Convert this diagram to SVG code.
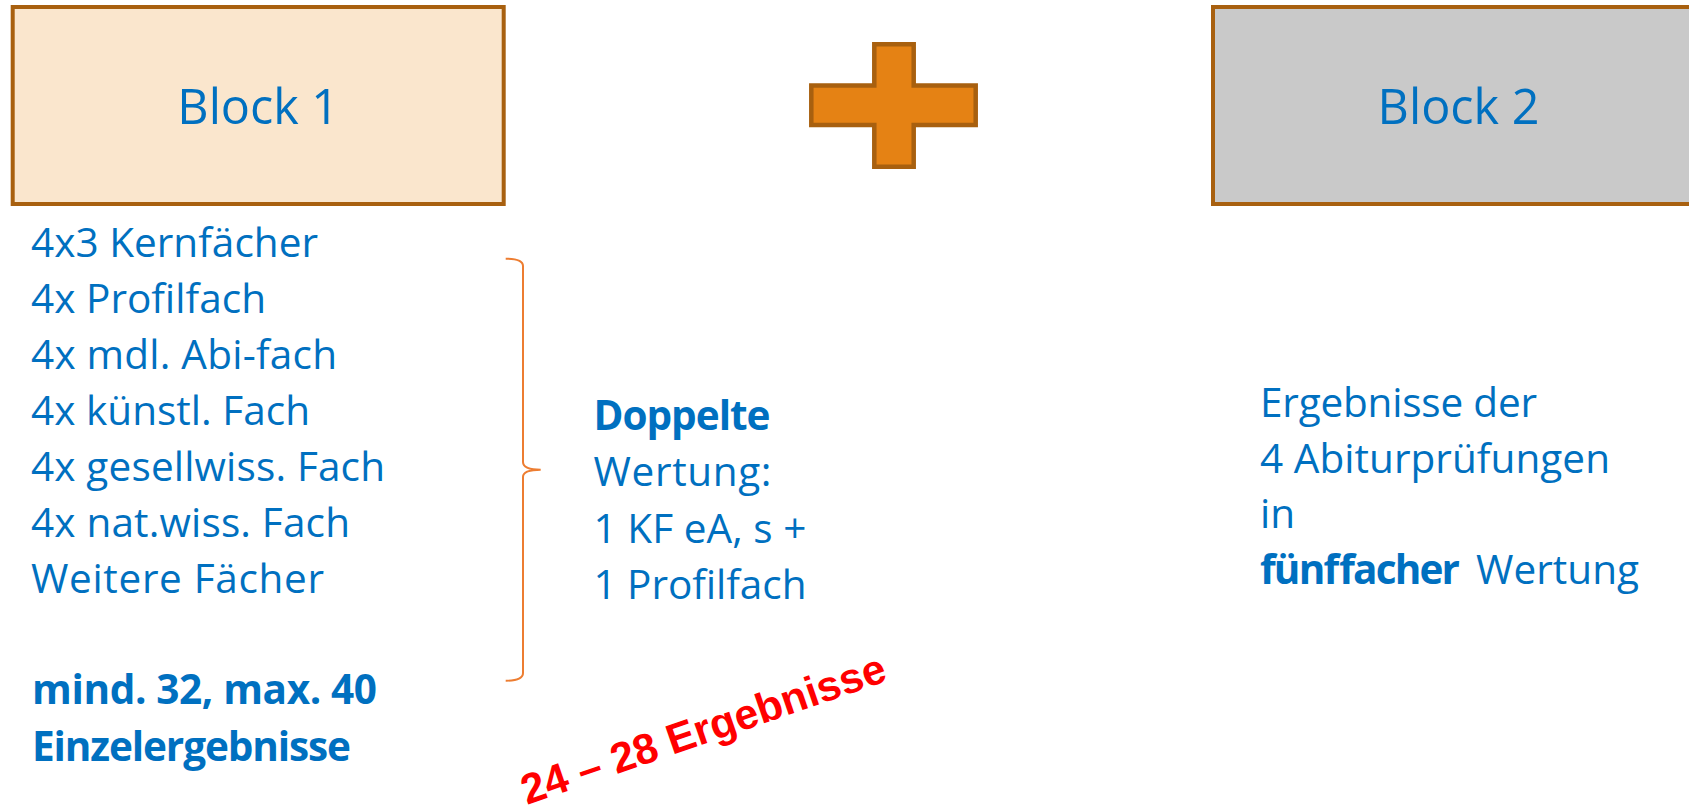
<svg xmlns="http://www.w3.org/2000/svg" width="1689" height="809" viewBox="0 0 1689 809">
<style>
.box{stroke:#A8600F;stroke-width:4}
.t{font-family:"Open Sans","Noto Sans",sans-serif;fill:#0070C0;font-size:40.5px}
.b{font-weight:bold}
.big{font-size:48.5px}
.red{font-family:"Liberation Sans",Arial,sans-serif;font-weight:bold;font-size:42.5px;fill:#FF0000}
</style>
<rect width="1689" height="809" fill="#FFFFFF"/>
<g id="block1">
<rect class="box" x="12.7" y="7" width="491" height="197" fill="#FAE6CD"/>
<text class="t big" x="258.2" y="124" text-anchor="middle">Block 1</text>
</g>
<g id="plus">
<path d="M874.3,44.3 H913.7 V85.5 H975.7 V125 H913.7 V166.7 H874.3 V125 H811.3 V85.5 H874.3 Z" fill="#E58214" stroke="#A8600F" stroke-width="4.5"/>
</g>
<g id="block2">
<rect class="box" x="1213" y="7" width="491" height="197" fill="#C9C9C9"/>
<text class="t big" x="1458.5" y="124" text-anchor="middle">Block 2</text>
</g>
<g id="list1">
<text class="t" x="31" y="256.7" textLength="287">4x3 Kernfächer</text>
<text class="t" x="31" y="313.3" textLength="235">4x Profilfach</text>
<text class="t" x="31" y="369.3" textLength="306">4x mdl. Abi-fach</text>
<text class="t" x="31" y="425" textLength="279">4x künstl. Fach</text>
<text class="t" x="31" y="480.7" textLength="354">4x gesellwiss. Fach</text>
<text class="t" x="31" y="536.7" textLength="319">4x nat.wiss. Fach</text>
<text class="t" x="31" y="592.7" textLength="293">Weitere Fächer</text>
<text class="t b" x="32" y="704" textLength="345">mind. 32, max. 40</text>
<text class="t b" x="32" y="760.7" textLength="319">Einzelergebnisse</text>
</g>
<g id="connectors">
<path d="M505.7,258.7 Q523,258.7 523,266 V462 Q523,469.7 540.7,469.7 Q523,469.7 523,477 V673 Q523,680.7 505.7,680.7" fill="none" stroke="#ED7D31" stroke-width="2"/>
</g>
<g id="double">
<text class="t b" x="593.5" y="429.8" textLength="177">Doppelte</text>
<text class="t" x="593.5" y="486.4" textLength="178">Wertung:</text>
<text class="t" x="593.5" y="542.6" textLength="213">1 KF eA, s +</text>
<text class="t" x="593.5" y="598.8" textLength="213">1 Profilfach</text>
</g>
<g id="count">
<text class="red" x="527" y="805" transform="rotate(-19 527 805)">24 – 28 Ergebnisse</text>
</g>
<g id="list2">
<text class="t" x="1260" y="416.7" textLength="277">Ergebnisse der</text>
<text class="t" x="1260" y="473.3" textLength="350">4 Abiturprüfungen</text>
<text class="t" x="1260" y="528.3">in</text>
<text class="t" y="584"><tspan class="b" x="1260" textLength="200">fünffacher</tspan><tspan x="1476" textLength="163">Wertung</tspan></text>
</g>
</svg>
